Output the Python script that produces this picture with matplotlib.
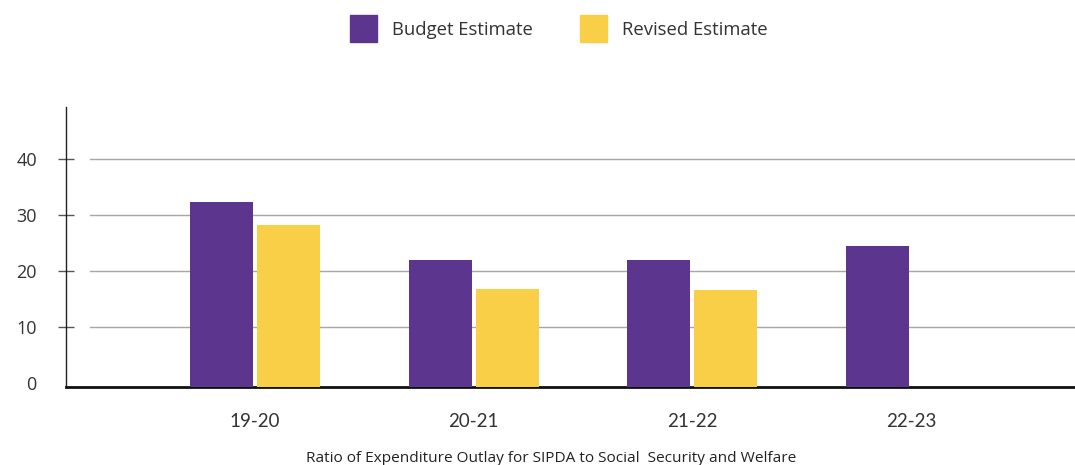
import numpy as np
import matplotlib
matplotlib.use("Agg")
import matplotlib.pyplot as plt
from matplotlib import font_manager
from matplotlib.patches import Rectangle
import matplotlib.transforms as mtransforms

# Data
years = ["19-20", "20-21", "21-22", "22-23"]
budget_estimate = [32.3, 22.0, 22.0, 24.5]
revised_estimate = [28.2, 16.7, 16.6, np.nan]
y_ticks = [0, 10, 20, 30, 40]
series_names = ["Budget Estimate", "Revised Estimate"]
x_title = "Ratio of Expenditure Outlay for SIPDA to Social  Security and Welfare"

PURPLE = "#5B358E"
YELLOW = "#F9CF47"

available = {f.name for f in font_manager.fontManager.ttflist}
main_font = "Open Sans" if "Open Sans" in available else "DejaVu Sans"
label_font = "Lato" if "Lato" in available else main_font
plt.rcParams["font.family"] = [main_font, "DejaVu Sans"]

W, H = 1075, 465
fig = plt.figure(figsize=(W / 100, H / 100), dpi=100)

# axes box: spine left at x=66, baseline at y=387, top at y=107
left, right, top, base = 66, 1075, 107, 387
ax = fig.add_axes([left / W, (H - base) / H, (right - left) / W, (base - top) / H])

x = np.arange(len(years))
px_per_group = 218.7
ax.set_xlim(-(255 - left) / px_per_group, 3 + (right - 911) / px_per_group)

px_per_unit = 5.6
y_floor = -4 / px_per_unit
ax.set_ylim(y_floor, (383 - top) / px_per_unit)

bw = 63 / px_per_group
off = 33.5 / px_per_group
b = np.array(budget_estimate)
r = np.array(revised_estimate)
ax.bar(x - off, b - y_floor, bw, bottom=y_floor, color=PURPLE, zorder=3)
mask = ~np.isnan(r)
ax.bar(x[mask] + off, r[mask] - y_floor, bw, bottom=y_floor, color=YELLOW, zorder=3)

# horizontal grid lines that start a little right of the axis
trans = mtransforms.blended_transform_factory(ax.transAxes, ax.transData)
gx0 = (90 - left) / (right - left)
for v in y_ticks[1:]:
    ax.plot([gx0, 1.0], [v, v], transform=trans, color="#a6a6a6", lw=1.0, zorder=1,
            clip_on=False)

for s in ["top", "right"]:
    ax.spines[s].set_visible(False)
ax.spines["left"].set_color("#222222")
ax.spines["left"].set_linewidth(1.0)
ax.spines["bottom"].set_color("#111111")
ax.spines["bottom"].set_linewidth(2.0)

ax.set_yticks(y_ticks)
ax.set_yticklabels([str(t) for t in y_ticks], fontsize=13, color="#333333")
ax.tick_params(axis="y", direction="inout", length=12, width=1, color="#555555", pad=15)
ax.yaxis.get_major_ticks()[0].tick1line.set_visible(False)
for lbl in ax.get_yticklabels():
    lbl.set_y(lbl.get_position()[1])

ax.set_xticks(x)
ax.set_xticklabels(years, fontsize=13.5, color="#333333", family=[label_font, "DejaVu Sans"])
ax.tick_params(axis="x", length=0, pad=19)

fig.text(551 / W, 1 - 462 / H, x_title, ha="center", va="baseline", fontsize=11.1,
         color="#222222")

# legend drawn in figure pixels
def legend_item(x0, color, label):
    fig.patches.append(Rectangle((x0 / W, 1 - 42 / H), 27 / W, 27 / H, transform=fig.transFigure,
                                 color=color, figure=fig))
    fig.text((x0 + 42) / W, 1 - 35 / H, label, ha="left", va="baseline", fontsize=13.3,
             color="#333333")

legend_item(350, PURPLE, series_names[0])
legend_item(580, YELLOW, series_names[1])

fig.savefig("out.png", dpi=100, facecolor="white")
